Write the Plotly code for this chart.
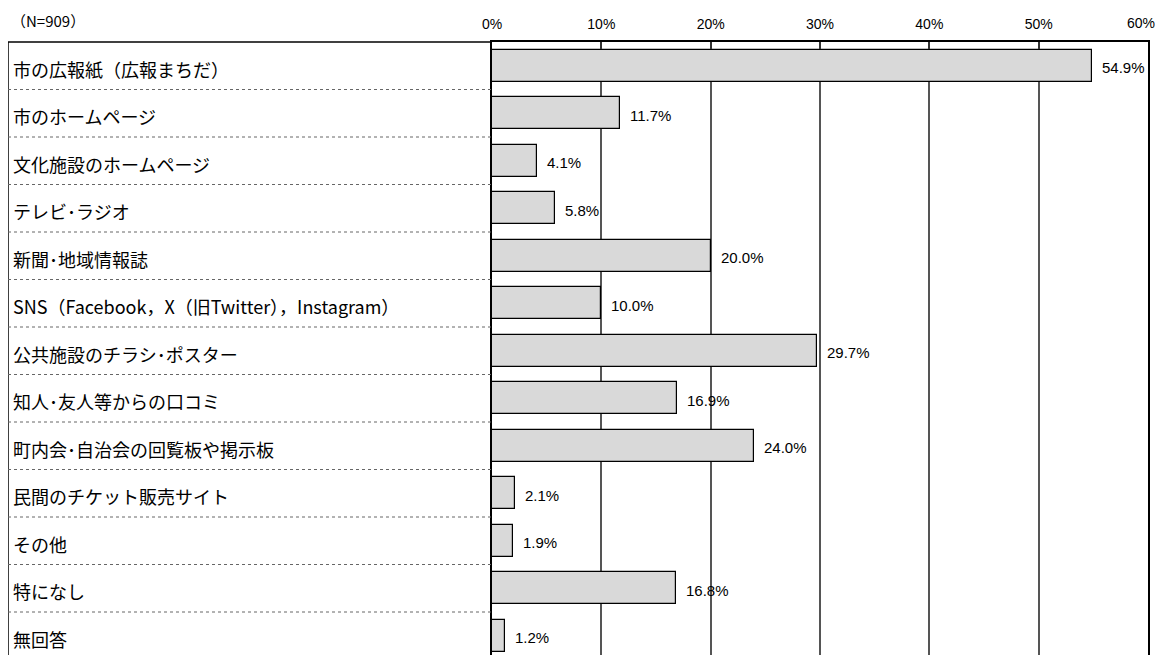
import plotly.graph_objects as go

categories = [
    "市の広報紙（広報まちだ）",
    "市のホームページ",
    "文化施設のホームページ",
    "テレビ･ラジオ",
    "新聞･地域情報誌",
    "SNS（Facebook，X（旧Twitter），Instagram）",
    "公共施設のチラシ･ポスター",
    "知人･友人等からの口コミ",
    "町内会･自治会の回覧板や掲示板",
    "民間のチケット販売サイト",
    "その他",
    "特になし",
    "無回答",
]
values = [54.9, 11.7, 4.1, 5.8, 20.0, 10.0, 29.7, 16.9, 24.0, 2.1, 1.9, 16.8, 1.2]
tick_vals = [0, 10, 20, 30, 40, 50, 60]
tick_text = ["0%", "10%", "20%", "30%", "40%", "50%", "60%"]
sample_note = "（N=909）"

# page has an 8px body margin; lay out in page coordinates and compensate
OFF = 8
PAGE_W, PAGE_H = 1163, 655
W, H = PAGE_W - OFF, PAGE_H - OFF
plot_left, plot_right, plot_top = 492, 1148, 42   # page coordinates
L = plot_left - OFF
T = plot_top - OFF
R = W - (plot_right - OFF)
B = 0
plot_w = W - L - R
plot_h = H - T - B
row_px = 47.5
rows_visible = plot_h / row_px

jp_font = "Noto Sans CJK JP, sans-serif"
num_font = "Liberation Sans, Arial, sans-serif"

def px_to_paper_x(px):
    return (px - plot_left) / plot_w

idx = list(range(len(categories)))

fig = go.Figure()
fig.add_trace(go.Bar(
    x=values, y=idx, orientation="h", width=0.667,
    marker=dict(color="#d9d9d9", line=dict(color="#000000", width=1.2)),
    hoverinfo="skip",
))

annotations = []
for i, (c, v) in enumerate(zip(categories, values)):
    annotations.append(dict(
        x=px_to_paper_x(11), y=i, xref="paper", yref="y", text=c,
        showarrow=False, xanchor="left", yanchor="middle", yshift=-3,
        font=dict(family=jp_font, size=18, color="#000000"),
    ))
    annotations.append(dict(
        x=v, y=i, xref="x", yref="y", text=f"{v:.1f}%",
        showarrow=False, xanchor="left", yanchor="middle", xshift=8, yshift=-2,
        font=dict(family=num_font, size=15, color="#000000"),
    ))
annotations.append(dict(
    x=px_to_paper_x(9), y=1 + (plot_top - 20) / plot_h,
    xref="paper", yref="paper",
    text=sample_note, showarrow=False, xanchor="left", yanchor="middle",
    font=dict(family=jp_font, size=15, color="#000000"),
))
# last tick label placed via annotation so it stays inside the visible page
annotations.append(dict(
    x=tick_vals[-1], y=1 + (plot_top - 23) / plot_h, xref="x", yref="paper",
    text=tick_text[-1], showarrow=False, xanchor="center", yanchor="middle", xshift=-7,
    font=dict(family=num_font, size=14, color="#000000"),
))

shapes = []
x_left = px_to_paper_x(8)
shapes.append(dict(type="line", xref="paper", yref="paper", x0=x_left, x1=0, y0=1, y1=1,
                   line=dict(color="#000000", width=1.5)))
shapes.append(dict(type="line", xref="paper", yref="paper", x0=x_left, x1=x_left, y0=-0.05, y1=1,
                   line=dict(color="#000000", width=1.5)))
for i in range(len(categories) - 1):
    shapes.append(dict(type="line", xref="paper", yref="y", x0=x_left, x1=0, y0=i + 0.5, y1=i + 0.5,
                       line=dict(color="#666666", width=1, dash="dot")))

fig.update_layout(
    width=W, height=H,
    margin=dict(l=L, r=R, t=T, b=B, pad=0),
    paper_bgcolor="#ffffff", plot_bgcolor="#ffffff",
    showlegend=False,
    annotations=annotations, shapes=shapes,
    bargap=0,
)
fig.update_xaxes(
    side="top", range=[0, 60], tickvals=tick_vals, ticktext=tick_text[:-1] + [""],
    ticks="inside", ticklen=7, tickcolor="#333333", tickwidth=1.5,
    showgrid=True, gridcolor="#555555", gridwidth=1.5,
    showline=True, linecolor="#000000", linewidth=1.5,
    zeroline=False, fixedrange=True, ticklabelstandoff=6,
    ticklabeloverflow="allow",
    tickfont=dict(family=num_font, size=14, color="#000000"),
)
fig.update_yaxes(
    range=[-0.5 + rows_visible, -0.5], showticklabels=False, ticks="",
    showgrid=False, zeroline=False, showline=True, mirror=True,
    linecolor="#000000", linewidth=1.5, fixedrange=True,
)

fig.write_html("out.html")
